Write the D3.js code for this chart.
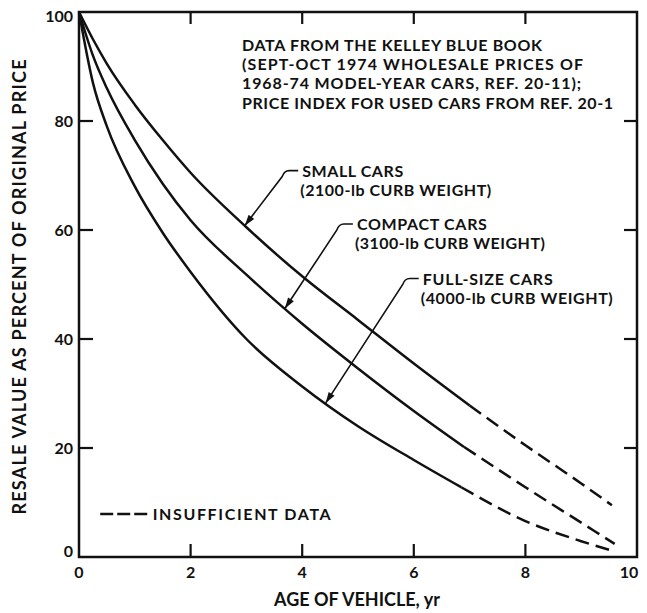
<!DOCTYPE html>
<html>
<head>
<meta charset="utf-8">
<script src="https://cdn.jsdelivr.net/npm/d3@7"></script>
<style>
    body { margin: 0; background: #fff; }
    svg text { font-family: Lato, "Open Sans", sans-serif; font-weight: 700; fill: #111; }
    .curve { fill: none; stroke: #111; stroke-width: 2.5; }
    .dashed { stroke-dasharray: 14 7; }
    .frame { fill: none; stroke: #111; stroke-width: 2.5; }
    .tick { stroke: #111; stroke-width: 2.2; }
</style>
</head>
<body>
<svg id="chart-svg" width="647" height="613"></svg>
<script>

// values (age in years, resale value in percent)
const smallAges = [0, 0.25, 0.5, 1, 1.5, 2, 3, 4, 5, 6, 7];
const smallValues = [100, 95, 90.5, 83, 76.5, 70.5, 60.5, 51.5, 43.5, 35.5, 27.8];
const smallDashAges = [7, 8, 9, 9.55];
const smallDashValues = [27.8, 20.5, 13.5, 9.5];

const compactAges = [0, 0.25, 0.5, 1, 1.5, 2, 3, 4, 5, 6, 6.9];
const compactValues = [100, 92, 86, 76.5, 68.5, 61.8, 51.8, 42.8, 34.6, 26.8, 20.2];
const compactDashAges = [6.9, 8, 9, 9.6];
const compactDashValues = [20.2, 12.8, 6.3, 2.4];

const fullAges = [0, 0.25, 0.5, 1, 1.5, 2, 3, 4, 5, 6, 6.85];
const fullValues = [100, 87, 79, 68, 59.5, 52.3, 40, 31.3, 24, 17.8, 12.8];
const fullDashAges = [6.85, 8, 9, 9.57];
const fullDashValues = [12.8, 6.6, 2.9, 1.1];

const xTicks = [0, 2, 4, 6, 8, 10];
const yTicks = [0, 20, 40, 60, 80, 100];

const noteLines = [
    "DATA FROM THE KELLEY BLUE BOOK",
    "(SEPT-OCT 1974 WHOLESALE PRICES OF",
    "1968-74 MODEL-YEAR CARS, REF. 20-11);",
    "PRICE INDEX FOR USED CARS FROM REF. 20-1"
];
// widths of the note lines as measured on the original
const noteWidths = [300, 341, 339, 371];

// label text, where it sits (age, value), line widths and the age the arrow points to
const seriesLabels = [
    {lines: ["SMALL CARS", "(2100-lb CURB WEIGHT)"], widths: [101, 191], age: 4.0, value: 69.8, target: 2.97, series: "small"},
    {lines: ["COMPACT CARS", "(3100-lb CURB WEIGHT)"], widths: [130, 190], age: 4.98, value: 60.0, target: 3.69, series: "compact"},
    {lines: ["FULL-SIZE CARS", "(4000-lb CURB WEIGHT)"], widths: [130, 192], age: 6.16, value: 50.0, target: 4.42, series: "full"}
];

class ResaleChart
{
    constructor()
    {
        this.svg = d3.select("#chart-svg");
        this.x = d3.scaleLinear().domain([0, 10]).range([79, 637]);
        this.y = d3.scaleLinear().domain([0, 100]).range([557, 12]);
        this.lineGap = 19.2;
        this.series = {
            small: [smallAges, smallValues, smallDashAges, smallDashValues],
            compact: [compactAges, compactValues, compactDashAges, compactDashValues],
            full: [fullAges, fullValues, fullDashAges, fullDashValues]
        };
    }

    draw()
    {
        this.drawFrame();
        this.drawCurves();
        this.drawLabels();
        this.drawNotes();
    }

    drawFrame()
    {
        const x = this.x, y = this.y, svg = this.svg;

        svg.append("rect").attr("class", "frame")
            .attr("x", x(0)).attr("y", y(100))
            .attr("width", x(10) - x(0)).attr("height", y(0) - y(100));

        const inner = [2, 4, 6, 8];
        const innerY = [20, 40, 60, 80];

        // ticks point inward on all four sides
        svg.selectAll(".tick-b").data(inner).join("line").attr("class", "tick tick-b")
            .attr("x1", d => x(d)).attr("x2", d => x(d)).attr("y1", y(0)).attr("y2", y(0) - 13);
        svg.selectAll(".tick-t").data(inner).join("line").attr("class", "tick tick-t")
            .attr("x1", d => x(d)).attr("x2", d => x(d)).attr("y1", y(100)).attr("y2", y(100) + 12);
        svg.selectAll(".tick-l").data(innerY).join("line").attr("class", "tick tick-l")
            .attr("x1", x(0)).attr("x2", x(0) + 14).attr("y1", d => y(d)).attr("y2", d => y(d));
        svg.selectAll(".tick-r").data(innerY).join("line").attr("class", "tick tick-r")
            .attr("x1", x(10)).attr("x2", x(10) - 13).attr("y1", d => y(d)).attr("y2", d => y(d));

        svg.selectAll(".xlab").data(xTicks).join("text").attr("class", "xlab")
            .attr("x", d => x(d) - (d === 10 ? 8 : 0))
            .attr("y", y(0) + 21)
            .attr("text-anchor", "middle")
            .style("font-size", "16px")
            .text(d => d);

        // end labels sit inside the frame height
        svg.selectAll(".ylab").data(yTicks).join("text").attr("class", "ylab")
            .attr("x", x(0) - 6)
            .attr("y", d => d === 0 ? y(d) : d === 100 ? y(d) + 10 : y(d) + 6)
            .attr("text-anchor", "end")
            .style("font-size", "16px")
            .text(d => d);

        svg.append("text")
            .attr("x", 357).attr("y", 606)
            .attr("text-anchor", "middle")
            .style("font-size", "18px")
            .text("AGE OF VEHICLE, yr");

        svg.append("text")
            .attr("transform", "translate(26," + 287 + ") rotate(-90)")
            .attr("text-anchor", "middle")
            .attr("textLength", 455).attr("lengthAdjust", "spacing")
            .style("font-size", "18px")
            .text("RESALE VALUE AS PERCENT OF ORIGINAL PRICE");
    }

    drawCurves()
    {
        const line = d3.line()
            .x(d => this.x(d[0]))
            .y(d => this.y(d[1]))
            .curve(d3.curveMonotoneX);

        Object.values(this.series).forEach(([ages, values, dashAges, dashValues]) => {
            this.svg.append("path").attr("class", "curve")
                .attr("d", line(d3.zip(ages, values)));
            this.svg.append("path").attr("class", "curve dashed")
                .attr("d", line(d3.zip(dashAges, dashValues)));
        });
    }

    valueAt(name, age)
    {
        const [ages, values] = this.series[name];
        const i = d3.bisectLeft(ages, age);
        const t = (age - ages[i - 1]) / (ages[i] - ages[i - 1]);
        return values[i - 1] + t * (values[i] - values[i - 1]);
    }

    drawLabels()
    {
        const x = this.x, y = this.y, svg = this.svg;

        seriesLabels.forEach(lab => {
            const tx = x(lab.age), ty = y(lab.value);
            lab.lines.forEach((s, i) => {
                svg.append("text")
                    .attr("x", tx + (i ? -2 : 0)).attr("y", ty + i * this.lineGap)
                    .attr("textLength", lab.widths[i]).attr("lengthAdjust", "spacing")
                    .style("font-size", "16px")
                    .text(s);
            });

            // leader: short horizontal piece, then down to the curve
            const px = x(lab.target), py = y(this.valueAt(lab.series, lab.target));
            const hy = ty - 6;
            const p = d3.path();
            p.moveTo(tx - 4, hy);
            p.lineTo(tx - 13, hy);
            p.quadraticCurveTo(tx - 18, hy, tx - 20, hy + 6);
            p.lineTo(px, py);
            svg.append("path").attr("d", p.toString())
                .attr("fill", "none").attr("stroke", "#111").attr("stroke-width", 1.6);

            // arrowhead at the curve end
            const ang = Math.atan2(py - (hy + 6), px - (tx - 20));
            const len = 11, half = 3.5;
            const bx = px - len * Math.cos(ang), by = py - len * Math.sin(ang);
            svg.append("path")
                .attr("d", "M" + px + "," + py +
                    "L" + (bx - half * Math.sin(ang)) + "," + (by + half * Math.cos(ang)) +
                    "L" + (bx + half * Math.sin(ang)) + "," + (by - half * Math.cos(ang)) + "Z")
                .attr("fill", "#111");
        });
    }

    drawNotes()
    {
        const x = this.x, y = this.y, svg = this.svg;

        noteLines.forEach((s, i) => {
            svg.append("text")
                .attr("x", 242).attr("y", 51 + i * this.lineGap)
                .attr("textLength", noteWidths[i]).attr("lengthAdjust", "spacing")
                .style("font-size", "16px")
                .text(s);
        });

        // legend for the dashed parts
        svg.append("line").attr("class", "curve dashed")
            .attr("x1", x(0.38)).attr("x2", x(1.24))
            .attr("y1", y(7.9)).attr("y2", y(7.9))
            .style("stroke-dasharray", "13 4");
        svg.append("text")
            .attr("x", x(1.32)).attr("y", y(7.9) + 6)
            .attr("textLength", 178).attr("lengthAdjust", "spacing")
            .style("font-size", "16px")
            .text("INSUFFICIENT DATA");
    }
}

const chart = new ResaleChart();
chart.draw();

</script>
</body>
</html>
